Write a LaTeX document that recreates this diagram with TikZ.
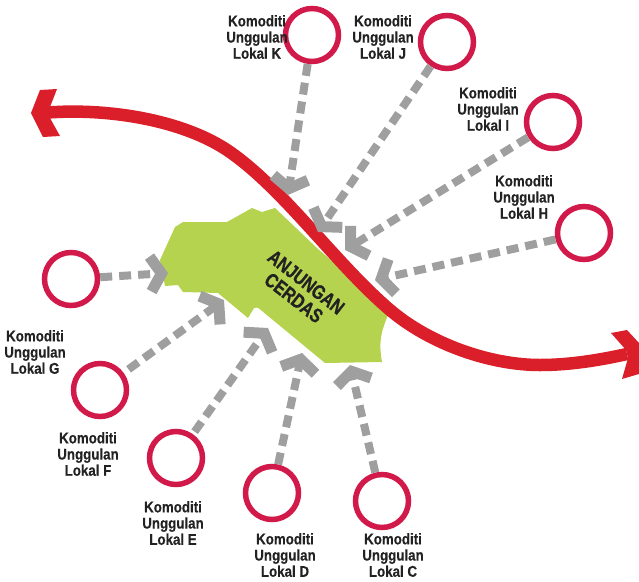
\documentclass[tikz,border=0pt]{standalone}
\usepackage{fontspec}
\newfontfamily\labfont[FakeStretch=0.86,FakeBold=0.3]{Liberation Sans Bold}
\newfontfamily\mapfont[FakeStretch=0.8,FakeBold=0.8]{Liberation Sans Bold}
\usetikzlibrary{arrows.meta}
\definecolor{riverred}{HTML}{DA1F2B}
\definecolor{ringred}{HTML}{D11A4A}
\definecolor{arrowgray}{HTML}{9F9F9F}
\definecolor{landgreen}{HTML}{B6D350}
\definecolor{inkblack}{HTML}{222222}
\tikzset{
  ring/.style={circle,draw=ringred,line width=5.5pt,minimum size=53pt,inner sep=0pt},
  lab/.style={font=\labfont\fontsize{15.5}{16.2}\selectfont,text=inkblack,align=center,inner sep=0pt},
  feed/.style={draw=arrowgray,line width=8pt,dash pattern=on 12pt off 7pt,
    -{Straight Barb[length=11pt,width=35pt,line width=11pt]}},
  river/.style={draw=riverred,line width=12.5pt},
}
\begin{document}
\begin{tikzpicture}[x=1pt,y=-1pt]
\useasboundingbox (0,0) rectangle (639,581);
% land
\fill[landgreen] (160,260) -- (175,227) -- (183,222) -- (227,222) -- (252,208) -- (262,212) -- (275,208)
  -- (317,248) -- (357,283) -- (388,315) .. controls (382,330) and (378,340) .. (382,362)
  -- (325,363) -- (262,311) .. controls (258,307) and (256,307) .. (254,308)
  -- (248,318) -- (218,293) -- (183,292) -- (178,285) -- (165,286) -- cycle;
% river
\draw[river] (48,112.5) .. controls (110,108) and (185,120.5) .. (230,152)
  .. controls (285,190.5) and (335,263) .. (390,310)
  .. controls (430,344) and (490,365) .. (540,365)
  .. controls (570,365) and (600,360) .. (627,354);
\fill[riverred] (31,113) -- (40,90) -- (57,89) -- (50,107) -- (50,118) -- (60,136) -- (43,137) -- cycle;
\fill[riverred] (611,333) -- (627,330) -- (639,343) -- (639,374) -- (622,379) -- (628,358) -- (626,350) -- cycle;
% text on land
\node[font=\mapfont\fontsize{20}{20}\selectfont,text=inkblack,align=center,inner sep=0pt,rotate=-38] (land) at (300,290) {ANJUNGAN\\CERDAS};
% rings
\node[ring] (K) at (312,35) {};
\node[ring] (J) at (447,42) {};
\node[ring] (I) at (553,122) {};
\node[ring] (H) at (584,233) {};
\node[ring] (G) at (71,279) {};
\node[ring] (F) at (100,390) {};
\node[ring] (E) at (176,458) {};
\node[ring] (D) at (272,493) {};
\node[ring] (C) at (382,501) {};
% labels
\node[lab] (lK) at (257,37) {Komoditi\\Unggulan\\Lokal K};
\node[lab] (lJ) at (383,37) {Komoditi\\Unggulan\\Lokal J};
\node[lab] (lI) at (488,109) {Komoditi\\Unggulan\\Lokal I};
\node[lab] (lH) at (524,197) {Komoditi\\Unggulan\\Lokal H};
\node[lab] (lG) at (35,352) {Komoditi\\Unggulan\\Lokal G};
\node[lab] (lF) at (88,454) {Komoditi\\Unggulan\\Lokal F};
\node[lab] (lE) at (173,523) {Komoditi\\Unggulan\\Lokal E};
\node[lab] (lD) at (285,555) {Komoditi\\Unggulan\\Lokal D};
\node[lab] (lC) at (393,555) {Komoditi\\Unggulan\\Lokal C};
% arrow targets
\coordinate (tK) at (288,195);
\coordinate (tJ) at (318,232);
\coordinate (tI) at (345,250);
\coordinate (tH) at (375,280);
\coordinate (tG) at (168,273);
\coordinate (tF) at (224,300);
\coordinate (tE) at (268,328);
\coordinate (tD) at (302,353);
\coordinate (tC) at (350,365);
% connectors
\foreach \a in {K,J,I,H,G,D,C} {\draw[feed] (\a) -- (t\a);}
\draw[feed,shorten <=6pt] (F) -- (tF);
\draw[feed,shorten <=3pt] (E) -- (tE);
\end{tikzpicture}
\end{document}
